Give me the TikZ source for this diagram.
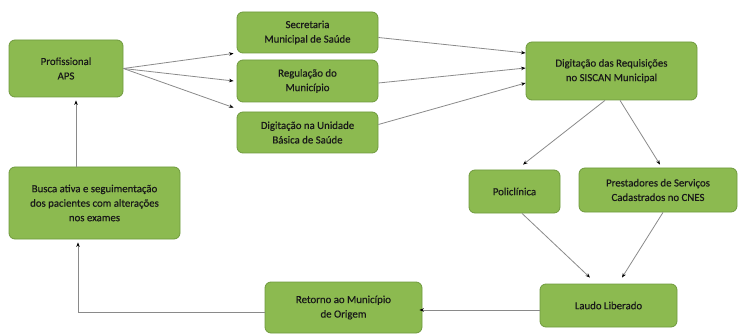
\documentclass[tikz,border=0pt]{standalone}
\usepackage{fontspec}
\setmainfont{Carlito}
\newfontfamily\boxfont{Carlito}[FakeBold=0.5]
\usetikzlibrary{arrows.meta,calc}
\definecolor{boxfill}{HTML}{8CBA50}
\definecolor{boxline}{HTML}{6F9A3E}
\definecolor{arrline}{HTML}{8A8A8A}
\tikzset{
  box/.style={draw=boxline, line width=0.8pt, fill=boxfill, rounded corners=6pt,
    align=center, inner sep=2pt, text=black!90,
    font=\boxfont\fontsize{10.8}{14.5}\selectfont},
  conn/.style={draw=arrline, line width=0.8pt,
    -{Stealth[length=4.5pt,width=3.5pt,color=black]}},
}
\begin{document}
\begin{tikzpicture}[x=1pt,y=-1pt]
\useasboundingbox (0,0) rectangle (739,334);
\node[box, minimum width=114pt, minimum height=57pt] (prof) at (66,68.5) {Profissional\\APS};
\node[box, minimum width=141pt, minimum height=41pt] (sec) at (307.5,32.5) {Secretaria\\Municipal de Saúde};
\node[box, minimum width=141pt, minimum height=42pt] (reg) at (307.5,81) {Regulação do\\Município};
\node[box, minimum width=141pt, minimum height=41pt] (ubs) at (307.5,132.5) {Digitação na Unidade\\Básica de Saúde};
\node[box, minimum width=171pt, minimum height=58pt] (sis) at (611.5,71) {Digitação das Requisições\\no SISCAN Municipal};
\node[box, minimum width=91pt, minimum height=43pt] (pol) at (514.5,191.5) {Policlínica};
\node[box, minimum width=158pt, minimum height=44pt] (pre) at (658,190) {Prestadores de Serviços\\Cadastrados no CNES};
\node[box, minimum width=137pt, minimum height=43pt] (lau) at (608.5,305.5) {Laudo Liberado};
\node[box, minimum width=157pt, minimum height=51pt] (ret) at (343.5,307.5) {Retorno ao Município\\de Origem};
\node[box, minimum width=171pt, minimum height=72pt] (bus) at (94.5,203) {Busca ativa e seguimentação\\dos pacientes com alterações\\nos exames};

\draw[conn] (prof.east) -- ([xshift=-3pt]sec.south west);
\draw[conn] (prof.east) -- ([xshift=-3pt]reg.west);
\draw[conn] (prof.east) -- ([xshift=-3pt,yshift=4pt]ubs.north west);

\draw[conn] ([yshift=-5pt]sec.east) -- ([yshift=18pt]sis.west);
\draw[conn] ([yshift=-2pt]reg.east) -- ([yshift=3pt]sis.west);
\draw[conn] ([yshift=8pt]ubs.east) -- ([yshift=-12pt]sis.west);

\draw[conn] ([xshift=-6.5pt]sis.south) -- ([xshift=8.5pt,yshift=5pt]pol.north);
\draw[conn] ([xshift=8.5pt]sis.south) -- ([xshift=2pt,yshift=3pt]pre.north);

\draw[conn] ([xshift=7.5pt]pol.south) -- ([xshift=-18.5pt,yshift=6pt]lau.north);
\draw[conn] ([xshift=5pt]pre.south) -- ([xshift=13.5pt,yshift=6pt]lau.north);

\draw[conn] ([yshift=-4.5pt]lau.west) -- ([xshift=-3pt,yshift=-2.5pt]ret.east);
\draw[conn] ([yshift=-4.5pt]ret.west) -| ([xshift=-16.5pt,yshift=-3pt]bus.south);
\draw[conn] ([xshift=-18.5pt]bus.north) -- ([xshift=10pt,yshift=-3pt]prof.south);
\end{tikzpicture}
\end{document}
